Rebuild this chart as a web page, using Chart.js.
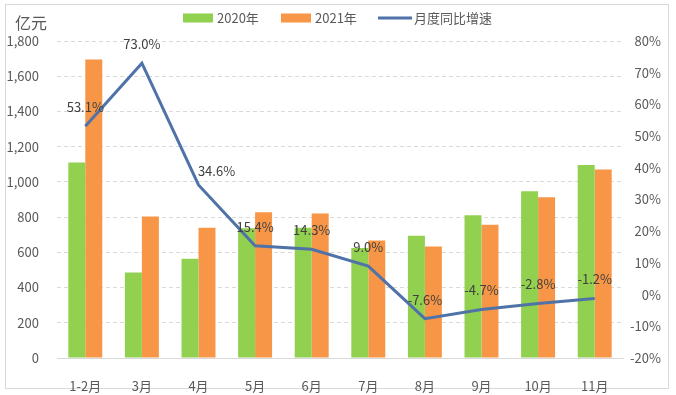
<!DOCTYPE html>
<html>
<head>
<meta charset="utf-8">
<script src="https://cdn.jsdelivr.net/npm/chart.js@4"></script>
<style>
  html, body { margin: 0; padding: 0; background: #fff; }
</style>
</head>
<body>
<canvas id="chart" width="676" height="395"></canvas>
<script>
const months = ["1-2月", "3月", "4月", "5月", "6月", "7月", "8月", "9月", "10月", "11月"];
const sales2020 = [1110, 485, 563, 737, 740, 624, 694, 810, 947, 1096];
const sales2021 = [1695, 803, 740, 827, 820, 667, 633, 757, 913, 1071];
const growth = [53.1, 73.0, 34.6, 15.4, 14.3, 9.0, -7.6, -4.7, -2.8, -1.2];

const FONT = "'Noto Sans CJK SC', 'Noto Sans', sans-serif";
const grey = "#595959";

// frame, unit label and legend
const decor = {
  id: "decor",
  beforeDraw(chart) {
    const ctx = chart.ctx;
    ctx.save();
    ctx.fillStyle = "#fff";
    ctx.fillRect(0, 0, chart.width, chart.height);
    ctx.strokeStyle = "#d9d9d9";
    ctx.lineWidth = 1;
    ctx.strokeRect(5.5, 4.5, 663, 384);
    ctx.restore();
  },
  afterDraw(chart) {
    const ctx = chart.ctx;
    ctx.save();
    ctx.fillStyle = grey;
    ctx.font = "16px " + FONT;
    ctx.textBaseline = "middle";
    ctx.fillText("亿元", 15, 23);

    ctx.font = "13px " + FONT;
    const ds = chart.data.datasets;
    const items = [
      { x: 183, d: ds[0], bar: true },
      { x: 281, d: ds[1], bar: true },
      { x: 378, d: ds[2], bar: false },
    ];
    const y = 18;
    items.forEach((it) => {
      if (it.bar) {
        ctx.fillStyle = it.d.backgroundColor;
        ctx.fillRect(it.x, y - 4.5, 30, 9);
      } else {
        ctx.strokeStyle = it.d.borderColor;
        ctx.lineWidth = 3;
        ctx.beginPath();
        ctx.moveTo(it.x, y);
        ctx.lineTo(it.x + 34, y);
        ctx.stroke();
      }
      ctx.fillStyle = grey;
      ctx.fillText(it.d.label, it.x + (it.bar ? 34 : 36), y);
    });
    ctx.restore();
  },
};

// percentage labels above the line points
const lineLabels = {
  id: "lineLabels",
  afterDatasetsDraw(chart, args, opts) {
    const ctx = chart.ctx;
    const meta = chart.getDatasetMeta(2);
    ctx.save();
    ctx.font = "13px " + FONT;
    ctx.fillStyle = "#404040";
    ctx.textAlign = "center";
    ctx.textBaseline = "middle";
    meta.data.forEach((pt, i) => {
      const shift = opts.shift[i] || 0;
      const dy = opts.lift[i] || 19;
      ctx.fillText(growth[i].toFixed(1) + "%", pt.x + shift, pt.y - dy);
    });
    ctx.restore();
  },
};

new Chart(document.getElementById("chart"), {
  data: {
    labels: months,
    datasets: [
      {
        type: "bar",
        label: "2020年",
        data: sales2020,
        backgroundColor: "#92d050",
        yAxisID: "y",
        categoryPercentage: 0.6,
        barPercentage: 1.0,
        order: 2,
      },
      {
        type: "bar",
        label: "2021年",
        data: sales2021,
        backgroundColor: "#f79646",
        yAxisID: "y",
        categoryPercentage: 0.6,
        barPercentage: 1.0,
        order: 2,
      },
      {
        type: "line",
        label: "月度同比增速",
        data: growth,
        borderColor: "#4f73a8",
        backgroundColor: "#4f73a8",
        borderWidth: 3,
        pointRadius: 0,
        tension: 0,
        yAxisID: "y1",
        order: 1,
      },
    ],
  },
  options: {
    responsive: false,
    animation: false,
    devicePixelRatio: 1,
    layout: {
      padding: { top: 41, bottom: 0, left: 0, right: 15 },
    },
    scales: {
      x: {
        grid: { display: false },
        border: { display: true, color: "#d9d9d9" },
        ticks: {
          color: grey,
          padding: 12,
          maxRotation: 0,
          autoSkip: false,
          font: { size: 13, family: FONT },
        },
        afterFit(scale) {
          scale.height = 37;
        },
      },
      y: {
        position: "left",
        min: 0,
        max: 1800,
        grid: {
          color: "#d9d9d9",
          drawTicks: false,
        },
        border: { display: false, dash: [4, 3] },
        ticks: {
          stepSize: 200,
          color: grey,
          padding: 18,
          font: { size: 13, family: FONT },
          callback: (v) => v.toLocaleString("en-US"),
        },
        afterFit(scale) {
          scale.width = 57;
        },
      },
      y1: {
        position: "right",
        min: -20,
        max: 80,
        grid: { display: false },
        border: { display: false },
        ticks: {
          stepSize: 10,
          color: grey,
          crossAlign: "far",
          font: { size: 13, family: FONT },
          callback: (v) => v + "%",
        },
        afterFit(scale) {
          scale.width = 38;
        },
      },
    },
    plugins: {
      legend: { display: false },
      tooltip: { enabled: false },
      lineLabels: {
        shift: { 2: 18 },
        lift: { 2: 14 },
      },
    },
  },
  plugins: [decor, lineLabels],
});
</script>
</body>
</html>
